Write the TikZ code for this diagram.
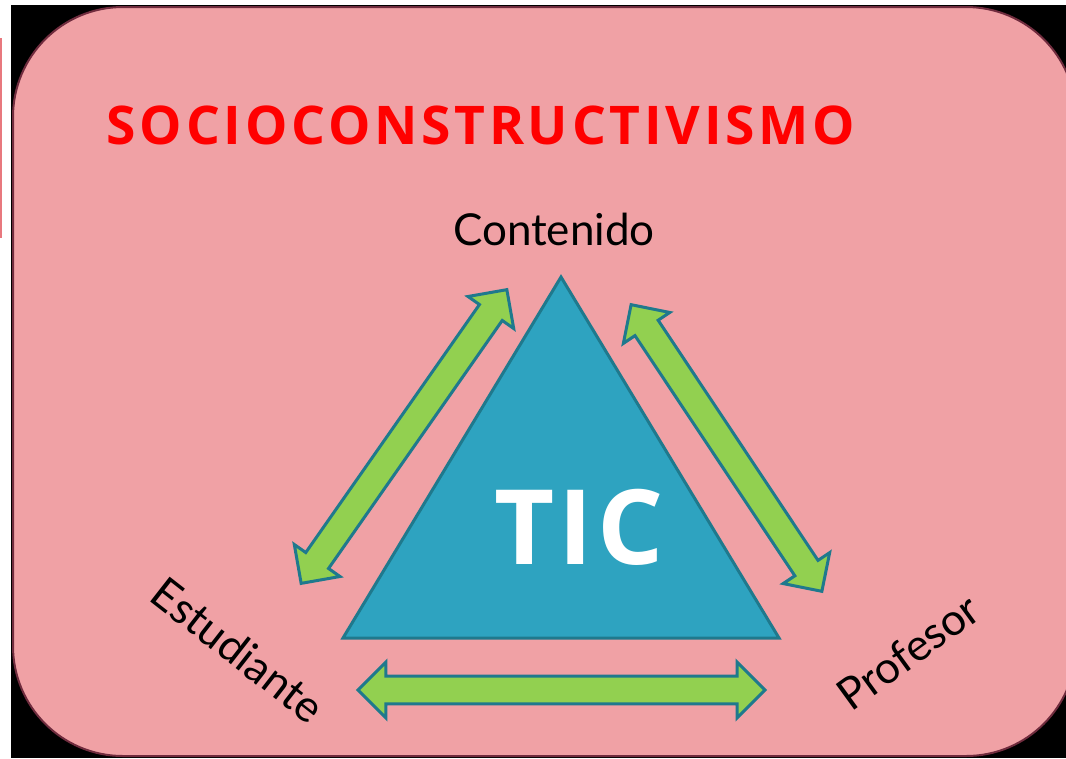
\documentclass[tikz,border=0pt]{standalone}
\usepackage{fontspec}
\setmainfont{Lato}
\newfontfamily\titulofont{Open Sans}
\usetikzlibrary{shapes.arrows,calc}

\definecolor{rosaFondo}{RGB}{240,161,165}
\definecolor{bordeFondo}{RGB}{112,44,62}
\definecolor{rojoMargen}{RGB}{232,120,126}
\definecolor{rojoTitulo}{RGB}{255,0,0}
\definecolor{azulTic}{RGB}{46,163,192}
\definecolor{azulBorde}{RGB}{31,121,141}
\definecolor{verdeFlecha}{RGB}{146,208,80}

\tikzset{every picture/.style={line width=0.75pt}}
\tikzset{
	flecha/.style={double arrow, draw=azulBorde, fill=verdeFlecha, line width=2.25pt,
		inner sep=9.3pt, double arrow head extend=10.5pt, double arrow tip angle=90,
		minimum width=0pt, outer sep=0pt, anchor=center},
	vertice/.style={font=\fontsize{33}{40}\selectfont, text=black, inner sep=0.75pt},
}

\begin{document}
\begin{tikzpicture}[x=0.75pt,y=0.75pt,yscale=-1,xscale=1]
		\useasboundingbox [fill=white] (0,0) rectangle (1066,758);
		
		%fondo
		\fill [black] (11,5) rectangle (1066,758);
		\draw [draw=bordeFondo, fill=rosaFondo, line width=1.5pt, rounded corners=82.5pt] (13,7) rectangle (1076,756);
		\draw [rojoMargen, line width=1.1pt] (1,38) -- (1,238);
		
		%titulo
		\node [anchor=base, text=rojoTitulo, font=\titulofont\fontsize{40}{48}\selectfont\bfseries\addfontfeatures{LetterSpace=7}, inner sep=0pt] (titulo) at (481,144) {SOCIOCONSTRUCTIVISMO};
		
		%triangulo
		\coordinate (vArriba) at (561,277);
		\coordinate (vIzq) at (343,638);
		\coordinate (vDer) at (779,638);
		\draw [draw=azulBorde, fill=azulTic, line width=2.25pt, line join=miter] (vArriba) -- (vIzq) -- (vDer) -- cycle;
		\node [anchor=base, text=white, font=\titulofont\fontsize{78}{88}\selectfont\bfseries\addfontfeatures{LetterSpace=4}, inner sep=0pt] (tic) at (579,564) {TIC};
		
		%vertices
		\node [vertice, anchor=base] (contenido) at (554,245) {Contenido};
		\node [vertice, rotate=-38] (estudiante) at (238,650) {Estudiante};
		\node [vertice, rotate=36] (profesor) at (908,652) {Profesor};
		
		%flechas
		\coordinate (fIzqA) at (300,585);
		\coordinate (fIzqB) at (508,288);
		\coordinate (fDerA) at (630,303);
		\coordinate (fDerB) at (823,593);
		\coordinate (fAbaA) at (356,690);
		\coordinate (fAbaB) at (767,690);
		\path let \p1=($(fIzqB)-(fIzqA)$), \n1={atan2(\y1,\x1)}, \n2={veclen(\x1,\y1)-3} in
			node [flecha, rotate={-\n1}, minimum height=\n2] (flechaIzq) at ($(fIzqA)!0.5!(fIzqB)$) {};
		\path let \p1=($(fDerB)-(fDerA)$), \n1={atan2(\y1,\x1)}, \n2={veclen(\x1,\y1)-3} in
			node [flecha, rotate={-\n1}, minimum height=\n2] (flechaDer) at ($(fDerA)!0.5!(fDerB)$) {};
		\path let \p1=($(fAbaB)-(fAbaA)$), \n1={atan2(\y1,\x1)}, \n2={veclen(\x1,\y1)-3} in
			node [flecha, rotate={-\n1}, minimum height=\n2] (flechaAba) at ($(fAbaA)!0.5!(fAbaB)$) {};
		
\end{tikzpicture}
\end{document}
